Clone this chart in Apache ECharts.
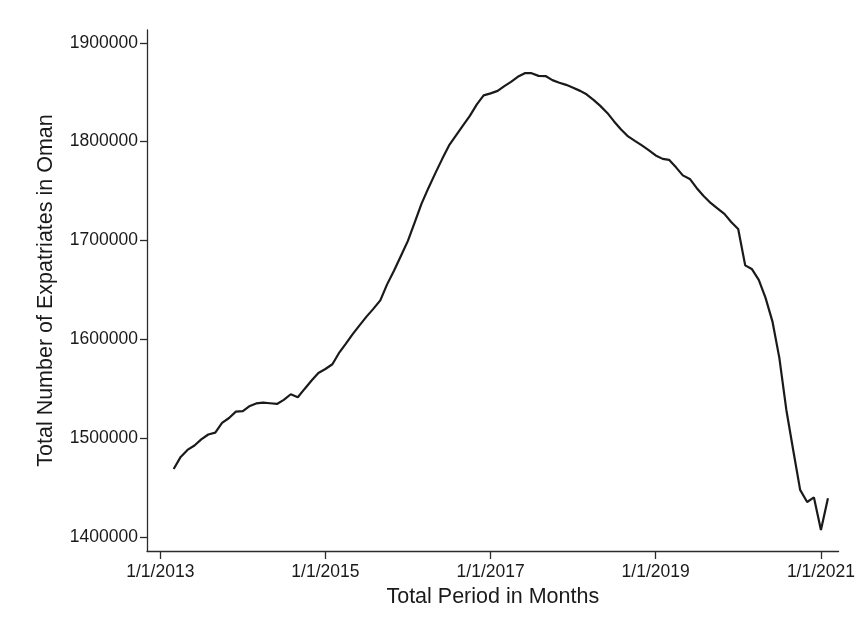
<!DOCTYPE html>
<html>
<head>
<meta charset="utf-8">
<title>Expatriates in Oman</title>
<script src="https://cdn.jsdelivr.net/npm/echarts@6/dist/echarts.min.js"></script>
<style>
  html, body { margin: 0; padding: 0; background: #ffffff; }
  #chart { width: 858px; height: 626px; }
</style>
</head>
<body>
<div id="chart"></div>
<script>
// Monthly observation dates (Mar 2013 - Feb 2021)
const months = [
  '2013-03','2013-04','2013-05','2013-06','2013-07','2013-08','2013-09','2013-10','2013-11','2013-12',
  '2014-01','2014-02','2014-03','2014-04','2014-05','2014-06','2014-07','2014-08','2014-09','2014-10','2014-11','2014-12',
  '2015-01','2015-02','2015-03','2015-04','2015-05','2015-06','2015-07','2015-08','2015-09','2015-10','2015-11','2015-12',
  '2016-01','2016-02','2016-03','2016-04','2016-05','2016-06','2016-07','2016-08','2016-09','2016-10','2016-11','2016-12',
  '2017-01','2017-02','2017-03','2017-04','2017-05','2017-06','2017-07','2017-08','2017-09','2017-10','2017-11','2017-12',
  '2018-01','2018-02','2018-03','2018-04','2018-05','2018-06','2018-07','2018-08','2018-09','2018-10','2018-11','2018-12',
  '2019-01','2019-02','2019-03','2019-04','2019-05','2019-06','2019-07','2019-08','2019-09','2019-10','2019-11','2019-12',
  '2020-01','2020-02','2020-03','2020-04','2020-05','2020-06','2020-07','2020-08','2020-09','2020-10','2020-11','2020-12',
  '2021-01','2021-02'
];

// Total number of expatriates, one value per month
const expatriates = [
  1468800,1481000,1488100,1492600,1498700,1503700,1505600,1515400,1520400,1526800,
  1527300,1532600,1535100,1535900,1535300,1534600,1538700,1544400,1541400,1549800,1558400,1566000,
  1570000,1574800,1585700,1595300,1605000,1614100,1622700,1630800,1639400,1655600,1669700,1684400,
  1699600,1718800,1737000,1753200,1767900,1782600,1796200,1806400,1816500,1826100,1837700,1846900,
  1848900,1851400,1856000,1860500,1865600,1869300,1869300,1866600,1866400,1862300,1859700,1857500,
  1854600,1851400,1847900,1842300,1836200,1829100,1820500,1812400,1805300,1800800,1796200,1791500,
  1786100,1782600,1781600,1774000,1765900,1762300,1753200,1745100,1738000,1732500,1726900,1718800,
  1711700,1674800,1671200,1660100,1641900,1617600,1581200,1528500,1487000,1447600,1435400,1440000,
  1407100,1439200
];

// Axis tick positions
const xTickDates = ['2013-01-01','2015-01-01','2017-01-01','2019-01-01','2021-01-01'];
const yTickValues = [1400000,1500000,1600000,1700000,1800000,1900000];

const toStamp = s => new Date(s + 'T00:00:00').getTime();
const xTickStamps = xTickDates.map(toStamp);
const seriesData = months.map((m, i) => [toStamp(m + '-01'), expatriates[i]]);

const textColor = '#1a1a1a';
const axisColor = '#2b2b2b';
const fontFamily = '"Liberation Sans", Arial, sans-serif';

const chart = echarts.init(document.getElementById('chart'), null, { renderer: 'canvas' });
chart.setOption({
  animation: false,
  backgroundColor: '#ffffff',
  grid: { left: 147, right: 13, top: 30, bottom: 75, containLabel: false },
  xAxis: {
    type: 'value',
    min: toStamp('2012-11-03'),
    max: toStamp('2021-03-20'),
    name: 'Total Period in Months',
    nameLocation: 'middle',
    nameGap: 31,
    nameTextStyle: { fontFamily, fontSize: 21.5, color: textColor },
    axisLine: { show: true, onZero: false, lineStyle: { color: axisColor, width: 1.3 } },
    axisTick: { show: true, length: 8, customValues: xTickStamps, lineStyle: { color: axisColor, width: 1.3 } },
    axisLabel: {
      customValues: xTickStamps,
      fontFamily, fontSize: 17.5, color: textColor, margin: 12,
      formatter: v => { const d = new Date(v); return (d.getMonth() + 1) + '/' + d.getDate() + '/' + d.getFullYear(); }
    },
    splitLine: { show: false }
  },
  yAxis: {
    type: 'value',
    min: 1385800,
    max: 1913000,
    name: 'Total Number of Expatriates in Oman',
    nameLocation: 'middle',
    nameGap: 90,
    nameTextStyle: { fontFamily, fontSize: 21.5, color: textColor },
    axisLine: { show: true, onZero: false, lineStyle: { color: axisColor, width: 1.3 } },
    axisTick: { show: true, length: 7, customValues: yTickValues, lineStyle: { color: axisColor, width: 1.3 } },
    axisLabel: {
      customValues: yTickValues,
      fontFamily, fontSize: 17.5, color: textColor, margin: 9,
      formatter: v => String(v)
    },
    splitLine: { show: false }
  },
  series: [{
    type: 'line',
    data: seriesData,
    showSymbol: false,
    symbol: 'none',
    lineStyle: { color: '#1a1a1a', width: 2.2 },
    emphasis: { disabled: true }
  }]
});
</script>
</body>
</html>
